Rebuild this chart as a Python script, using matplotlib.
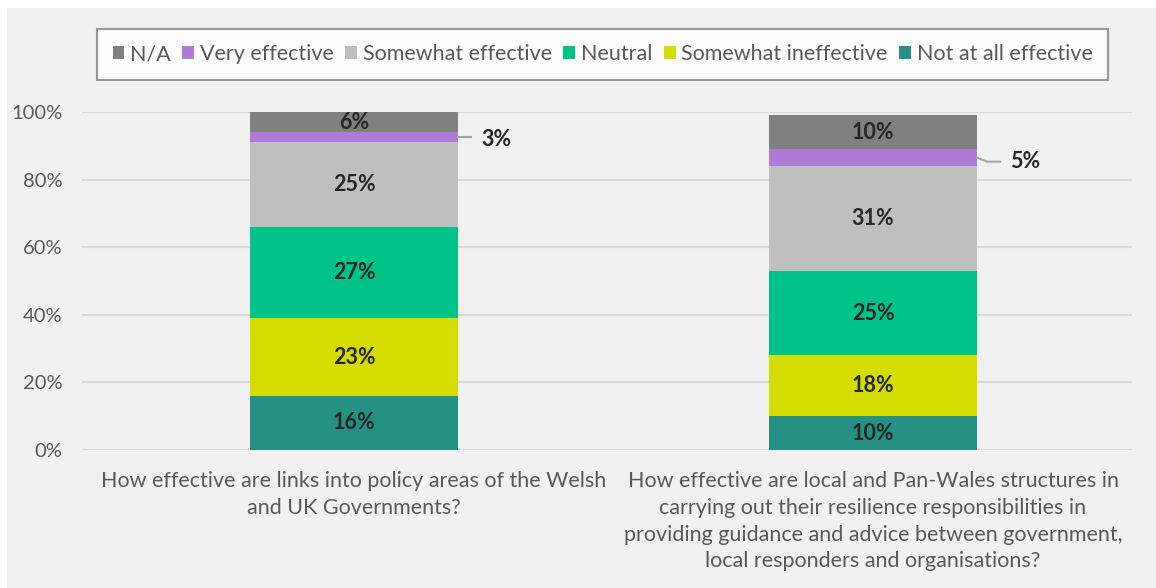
import matplotlib
matplotlib.use("Agg")
import matplotlib.pyplot as plt
from matplotlib.patches import Rectangle
from matplotlib.ticker import FuncFormatter

plt.rcParams['font.family'] = ['Lato', 'DejaVu Sans']

questions = [
    "How effective are links into policy areas of the Welsh\nand UK Governments?",
    "How effective are local and Pan-Wales structures in\ncarrying out their resilience responsibilities in\nproviding guidance and advice between government,\nlocal responders and organisations?",
]
series_names = ["Not at all effective", "Somewhat ineffective", "Neutral",
                "Somewhat effective", "Very effective", "N/A"]
not_at_all = [16, 10]
somewhat_ineffective = [23, 18]
neutral = [27, 25]
somewhat_effective = [25, 31]
very_effective = [3, 5]
not_applicable = [6, 10]
y_ticks = [0, 20, 40, 60, 80, 100]

series_values = [not_at_all, somewhat_ineffective, neutral,
                 somewhat_effective, very_effective, not_applicable]
colors = ["#259185", "#d4dc00", "#00c389", "#bfbfbf", "#b07bd7", "#808080"]

fig = plt.figure(figsize=(11.56, 5.88), dpi=100, facecolor="white")
W, H = 1156, 588
# light grey panel behind the chart
fig.patches.append(Rectangle((7 / W, 0), 1, 1 - 8 / H, transform=fig.transFigure,
                             facecolor="#f1f1f1", edgecolor="none", zorder=-5))

ax = fig.add_axes([82 / W, 1 - 450 / H, (1132 - 82) / W, (450 - 112) / H])
ax.set_facecolor("none")
ax.set_zorder(2)

label_size = 15.5
x = [0, 1]
bottoms = [0, 0]
bars = []
for name, vals, col in zip(series_names, series_values, colors):
    b = ax.bar(x, vals, width=0.4, bottom=bottoms, color=col, label=name, zorder=3)
    bars.append(b)
    for i, v in enumerate(vals):
        mid = bottoms[i] + v / 2
        if name == "Very effective":
            top_edge = x[i] + 0.2
            if i == 0:
                ax.plot([top_edge, top_edge + 0.025], [mid, mid], color="#a6a6a6",
                        lw=1.5, zorder=4, clip_on=False)
                ax.text(top_edge + 0.045, mid - 0.6, f"{v}%", ha="left", va="center",
                        fontsize=label_size, fontweight="bold", color="#262626")
            else:
                ax.plot([top_edge, top_edge + 0.02, top_edge + 0.045],
                        [mid, mid - 1.2, mid - 1.2], color="#a6a6a6",
                        lw=1.5, zorder=4, clip_on=False)
                ax.text(top_edge + 0.065, mid - 1.2, f"{v}%", ha="left", va="center",
                        fontsize=label_size, fontweight="bold", color="#262626")
        else:
            ax.text(x[i], mid, f"{v}%", ha="center", va="center",
                    fontsize=label_size, fontweight="bold", color="#262626", zorder=5)
    bottoms = [bt + v for bt, v in zip(bottoms, vals)]

ax.set_xlim(-0.524, 1.499)
ax.set_ylim(0, 100)
ax.set_yticks(y_ticks)
ax.yaxis.set_major_formatter(FuncFormatter(lambda v, p: f"{int(v)}%"))
ax.grid(axis="y", color="#d9d9d9", lw=1.5, zorder=0)
ax.set_axisbelow(True)
for s in ax.spines.values():
    s.set_visible(False)
ax.tick_params(axis="y", length=0, pad=14, labelsize=14.5, labelcolor="#595959")
ax.set_xticks(x)
ax.set_xticklabels(questions, fontsize=15.5, color="#595959", linespacing=1.43)
ax.tick_params(axis="x", length=0, pad=15)

handles = [bars[i] for i in [5, 4, 3, 2, 1, 0]]
labels = [series_names[i] for i in [5, 4, 3, 2, 1, 0]]
leg = fig.legend(handles, labels, loc="center", ncol=6,
                 bbox_to_anchor=((94 + 1111) / 2 / W, 1 - 54.5 / H),
                 fontsize=15.5, frameon=True, fancybox=False,
                 handlelength=0.55, handleheight=0.55, handletextpad=0.25,
                 columnspacing=0.55, labelcolor="#595959", borderpad=0.7,
                 borderaxespad=0)
leg.get_frame().set_edgecolor("#808080")
leg.get_frame().set_linewidth(1.5)
leg.get_frame().set_facecolor("white")

fig.savefig("out.png", dpi=100, facecolor="white")
